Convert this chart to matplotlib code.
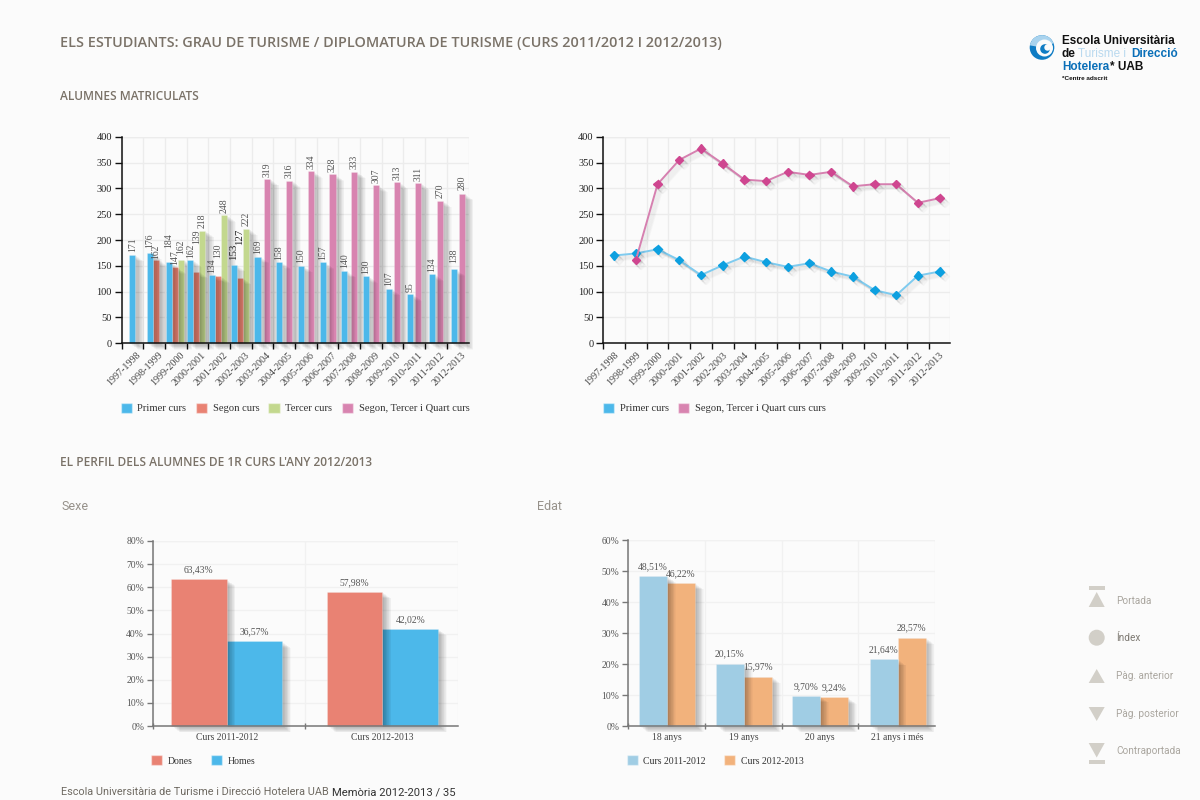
import matplotlib
matplotlib.use('Agg')
import matplotlib.pyplot as plt
import matplotlib.patheffects as pe
from matplotlib.patches import Patch, Polygon, Circle, Rectangle, Wedge
from matplotlib.transforms import ScaledTranslation

courses = ['1997-1998','1998-1999','1999-2000','2000-2001','2001-2002','2002-2003','2003-2004','2004-2005',
           '2005-2006','2006-2007','2007-2008','2008-2009','2009-2010','2010-2011','2011-2012','2012-2013']
# bar heights as drawn, and the labels printed above them (they do not always agree in the source)
primer_h = [171,175,157,161,133,152,168,157,150,157,140,130,106,95,134,143]
segon_h  = [None,162,147,139,130,127,None,None,None,None,None,None,None,None,None,None]
tercer_h = [None,None,162,218,248,222,None,None,None,None,None,None,None,None,None,None]
quart_h  = [None,None,None,None,None,None,318,315,333,327,332,306,312,310,276,290]
primer_lab = ['171','176','184','162','134','153','169','158','150','157','140','130','107','95','134','138']
segon_lab  = [None,'162','147','139','130','127',None,None,None,None,None,None,None,None,None,None]
tercer_lab = [None,None,'162','218','248','222',None,None,None,None,None,None,None,None,None,None]
quart_lab  = [None,None,None,None,None,None,'319','316','334','328','333','307','313','311','270','280']
# line chart
line_primer = [170,174,182,161,132,151,168,157,148,155,139,129,103,93,131,139]
line_quart  = [None,161,308,355,377,348,317,314,332,326,332,304,308,308,272,281]
# sex
sex_groups = ['Curs 2011-2012','Curs 2012-2013']
dones = [63.43,57.98]
homes = [36.57,42.02]
# age
age_groups = ['18 anys','19 anys','20 anys','21 anys i més']
age_1112 = [48.51,20.15,9.70,21.64]
age_1213 = [46.22,15.97,9.24,28.57]

BG = '#fbfbfb'
BLUE, RED, GREEN, PINK = '#4cb8ea', '#e98273', '#c3d88e', '#d884b0'
LBLUE, ORANGE = '#a0cde4', '#f2b27c'
GRID = '#ececec'
SERIF = 'Liberation Serif'

fig = plt.figure(figsize=(12, 8), dpi=100, facecolor=BG)

def px_axes(x0, x1, ytop, ybot):
    ax = fig.add_axes([x0/1200, 1-ybot/800, (x1-x0)/1200, (ybot-ytop)/800])
    ax.set_facecolor('none')
    for s in ('top', 'right'):
        ax.spines[s].set_visible(False)
    ax.set_axisbelow(True)
    return ax

def bar_shadow(strength=0.025):
    steps = [(i*0.45, -i*0.33) for i in range(1, 15)]
    return [pe.SimplePatchShadow(offset=o, shadow_rgbFace='k', alpha=strength) for o in steps] + [pe.Normal()]

def line_shadow():
    steps = [(i*0.5, -i*0.5) for i in range(1, 8)]
    return [pe.SimpleLineShadow(offset=o, shadow_color='k', alpha=0.022) for o in steps] + [pe.Normal()]

def draw_bar(ax, x, h, w, color, z):
    b = ax.bar(x, h, w, color=color, edgecolor=(1, 1, 1, 0.3), linewidth=0.5, zorder=z, clip_on=False)[0]
    b.set_path_effects(bar_shadow())
    return b

def style_years(ax, color, shift_px):
    n = len(courses)
    ax.set_xlim(0, n)
    ax.set_ylim(0, 400)
    ax.set_yticks(range(0, 401, 50))
    ax.set_xticks(range(n))
    ax.set_xticklabels([])
    ax.set_xticks([i+0.5 for i in range(n)], minor=True)
    ax.set_xticklabels(courses, minor=True, rotation=45, ha='right', va='top', rotation_mode='anchor',
                       family=SERIF, fontsize=7.2, color='#444')
    ax.tick_params(axis='x', which='minor', length=0, pad=5)
    ax.tick_params(axis='x', which='major', length=4, width=1, color=color)
    ax.tick_params(axis='y', length=5, width=1, color=color, pad=2, labelsize=7.5, labelcolor='#222')
    for t in ax.get_yticklabels():
        t.set_family(SERIF)
    off = ScaledTranslation(shift_px/100, 0, fig.dpi_scale_trans)
    for t in ax.get_xticklabels(minor=True):
        t.set_transform(t.get_transform() + off)
    ax.grid(True, which='major', color=GRID, lw=1)
    ax.plot([0, n, n], [400, 400, 0], color=GRID, lw=1, zorder=0.5)
    for s in ('left', 'bottom'):
        ax.spines[s].set_color(color)
        ax.spines[s].set_linewidth(1.1)
        ax.spines[s].set_zorder(20)

def legend(handles, labels, x, y, fs=7.6, cs=0.88):
    hs = 7.6 / fs * 1.05
    lg = fig.legend(handles, labels, loc='center left', bbox_to_anchor=(x/1200, 1-y/800), ncol=len(handles),
                    frameon=False, handlelength=hs, handleheight=hs, handletextpad=0.55, columnspacing=cs,
                    borderpad=0, borderaxespad=0, prop={'family': SERIF, 'size': fs})
    for t in lg.get_texts():
        t.set_color('#333')
    return lg

# ---------- chart 1: grouped bars ----------
ax1 = px_axes(121.5, 468.5, 136.7, 343.3)
style_years(ax1, '#111', 4)
W = 0.28
series = [(primer_h, primer_lab, BLUE, 0), (segon_h, segon_lab, RED, 1), (tercer_h, tercer_lab, GREEN, 2), (quart_h, quart_lab, PINK, 3)]
# label clearance above the bar, in pixels, where the source dodged its labels
label_lift = {(0,1):4.5, (1,1):1, (0,2):14, (0,4):1.5, (0,5):5, (1,3):28, (1,4):18, (1,5):33, (2,2):6, (0,15):6, (3,15):4}
px_per_unit = 206.6/400
for hs, labs, col, si in reversed(series):
    for i, h in enumerate(hs):
        if h is None:
            continue
        count = sum(s[0][i] is not None for s in series)
        pos = sum(s[0][i] is not None for s in series[:si])
        if quart_h[i] is not None:
            cx = i + 0.5 + (-0.23 if si == 0 else 0.23) * (0.8 if i >= 12 else 1)
        else:
            cx = i + 0.45 + (pos - (count-1)/2) * W if count > 1 else i + 0.5
        draw_bar(ax1, cx, h, W, col, 5 - si*0.5)
        lift = label_lift.get((si, i), 2.5)
        ax1.text(cx, h + lift/px_per_unit, labs[i], rotation=90, ha='center', va='bottom', family=SERIF,
                 fontsize=7.8 if i == 5 and si < 2 else 7.0,
                 color='#222' if i == 5 and si < 2 else '#555', zorder=10)
legend([Patch(fc=c, ec=(1,1,1,0.4)) for c in (BLUE, RED, GREEN, PINK)],
       ['Primer curs', 'Segon curs', 'Tercer curs', 'Segon, Tercer i Quart curs'], 120.5, 408)

# ---------- chart 2: lines ----------
ax2 = px_axes(603.3, 950.5, 136.7, 343.3)
style_years(ax2, '#111', 0)
xs = [i+0.5 for i in range(len(courses))]
l1, = ax2.plot(xs, line_primer, color='#7fcbef', lw=1.4, marker='D', ms=4.3, mfc='#0da0e0', mec='#0da0e0', zorder=5, clip_on=False)
xq = [x for x, v in zip(xs, line_quart) if v is not None]
yq = [v for v in line_quart if v is not None]
l2, = ax2.plot(xq, yq, color='#d680b0', lw=1.4, marker='D', ms=4.3, mfc='#cf4690', mec='#cf4690', zorder=6, clip_on=False)
l1.set_path_effects(line_shadow())
l2.set_path_effects(line_shadow())
legend([Patch(fc=BLUE, ec=(1,1,1,0.4)), Patch(fc=PINK, ec=(1,1,1,0.4))],
       ['Primer curs', 'Segon, Tercer i Quart curs curs'], 603, 408)

# ---------- charts 3 and 4 ----------
def pct_chart(ax, groups, a, b, ca, cb, ymax, bw, shifts):
    n = len(groups)
    ax.set_xlim(0, n)
    ax.set_ylim(0, ymax)
    ax.set_yticks(range(0, ymax+1, 10))
    ax.set_yticklabels([f'{v}%' for v in range(0, ymax+1, 10)], family=SERIF, fontsize=6.9, color='#555')
    ax.set_xticks(range(n))
    ax.set_xticklabels([])
    ax.set_xticks([i+0.5+shifts[i] for i in range(n)], minor=True)
    ax.set_xticklabels(groups, minor=True, family=SERIF, fontsize=6.9, color='#444')
    ax.tick_params(axis='x', which='minor', length=0, pad=5)
    ax.tick_params(axis='x', which='major', length=4, width=1, color='#777', direction='inout')
    ax.tick_params(axis='y', length=4, width=1, color='#777', pad=2)
    ax.grid(True, which='major', color='#f1f1f1', lw=1)
    ax.plot([0, n, n], [ymax, ymax, 0], color='#f1f1f1', lw=1, zorder=0.5)
    for s in ('left', 'bottom'):
        ax.spines[s].set_color('#777')
        ax.spines[s].set_linewidth(1.1)
        ax.spines[s].set_zorder(20)
    for i in range(n):
        xa, xb = i + 0.5 + shifts[i] - bw/2, i + 0.5 + shifts[i] + bw/2
        draw_bar(ax, xa, a[i], bw, ca, 6)
        draw_bar(ax, xb, b[i], bw, cb, 5)
        for v, x in ((a[i], xa), (b[i], xb)):
            ax.text(x, v, f'{v:.2f}%'.replace('.', ','), ha='center', va='bottom', family=SERIF, fontsize=6.9,
                    color='#555', zorder=10, transform=ax.transData + ScaledTranslation(0, 5/100, fig.dpi_scale_trans))

ax3 = px_axes(152.5, 457.7, 541, 726)
pct_chart(ax3, sex_groups, dones, homes, RED, BLUE, 80, 0.364, [-0.014, 0.007])
legend([Patch(fc=RED, ec=(1,1,1,0.4)), Patch(fc=BLUE, ec=(1,1,1,0.4))], ['Dones', 'Homes'], 151, 760.5, fs=7, cs=1.9)

ax4 = px_axes(627.7, 935.3, 540.3, 726)
pct_chart(ax4, age_groups, age_1112, age_1213, LBLUE, ORANGE, 60, 0.364, [0.01, 0.01, 0.0, 0.01])
legend([Patch(fc=LBLUE, ec=(1,1,1,0.4)), Patch(fc=ORANGE, ec=(1,1,1,0.4))], ['Curs 2011-2012', 'Curs 2012-2013'], 627, 760.5, fs=7, cs=1.9)

# ---------- page furniture ----------
pg = fig.add_axes([0, 0, 1, 1], zorder=-1)
pg.set_xlim(0, 1200); pg.set_ylim(800, 0); pg.axis('off')
HEAD = '#7a7268'
def head(x, y, s, size, weight='semibold'):
    pg.text(x, y, s, family='Open Sans', fontsize=size, color=HEAD, weight=weight, va='center', ha='left')

head(60, 43.5, 'ELS ESTUDIANTS: GRAU DE TURISME / DIPLOMATURA DE TURISME (CURS 2011/2012 I 2012/2013)', 10.38)
head(60.5, 97, 'ALUMNES MATRICULATS', 8.55)
head(60.5, 462, "EL PERFIL DELS ALUMNES DE 1R CURS L'ANY 2012/2013", 8.55)
pg.text(61, 507, 'Sexe', family='Roboto', fontsize=9, color='#96918a', va='center')
pg.text(537, 507, 'Edat', family='Roboto', fontsize=9, color='#96918a', va='center')
pg.text(61, 792, 'Escola Universitària de Turisme i Direcció Hotelera UAB', family='Roboto', fontsize=7.85, color='#6f6a62', va='center')
pg.text(332, 792, 'Memòria 2012-2013 / 35', family='Roboto', fontsize=8.1, color='#333', va='center')

# logo
LOGOB = '#0a6fb8'
pg.add_patch(Circle((1042, 47.5), 12.3, fc='#0f7cc4', ec='none'))
pg.add_patch(Wedge((1042, 47.5), 12.3, 190, 340, fc='#a9d3ee', ec='none'))
pg.add_patch(Circle((1044.5, 48), 8.5, fc=BG, ec='none'))
pg.add_patch(Circle((1045, 49), 4.8, fc='#0f7cc4', ec='none'))
pg.add_patch(Circle((1047.5, 47.5), 3.2, fc=BG, ec='none'))
LF = dict(family='Liberation Sans', fontsize=8.45, va='center', weight='bold')
pg.text(1062, 41, 'Escola Universitària', color='#111', **LF)
pg.text(1062, 54, 'de', color='#111', **LF)
pg.text(1078, 54, 'Turisme i', color='#b9d9ef', family='Liberation Sans', fontsize=8.45, va='center')
pg.text(1131, 54, 'Direcció', color=LOGOB, **LF)
pg.text(1062, 66.5, 'Hotelera', color=LOGOB, **LF)
pg.text(1110, 66.5, '* UAB', color='#111', **LF)
pg.text(1062, 78.5, '*Centre adscrit', color='#111', family='Liberation Sans', fontsize=4.6, weight='bold', va='center')

# navigation
ICON = '#d2cfc8'
cx = 1096.7
pg.add_patch(Rectangle((cx-8, 586), 16, 3.5, fc=ICON, ec='none'))
pg.add_patch(Polygon([(cx, 592), (cx-8, 607), (cx+8, 607)], fc=ICON, ec='none'))
pg.add_patch(Circle((cx, 637.7), 8, fc=ICON, ec='none'))
pg.add_patch(Polygon([(cx, 669), (cx-8, 683), (cx+8, 683)], fc=ICON, ec='none'))
pg.add_patch(Polygon([(cx-8, 707), (cx+8, 707), (cx, 721)], fc=ICON, ec='none'))
pg.add_patch(Polygon([(cx-8, 743), (cx+8, 743), (cx, 757.5)], fc=ICON, ec='none'))
pg.add_patch(Rectangle((cx-8, 760), 16, 3.5, fc=ICON, ec='none'))
for y, s, c in [(601, 'Portada', '#aaa69f'), (638, 'Índex', '#7d7972'), (676, 'Pàg. anterior', '#aaa69f'),
                (714, 'Pàg. posterior', '#aaa69f'), (751.5, 'Contraportada', '#aaa69f')]:
    pg.text(1116, y, s, family='Roboto', fontsize=7.2, color=c, va='center')

fig.savefig('out.png', dpi=100, facecolor=BG)
